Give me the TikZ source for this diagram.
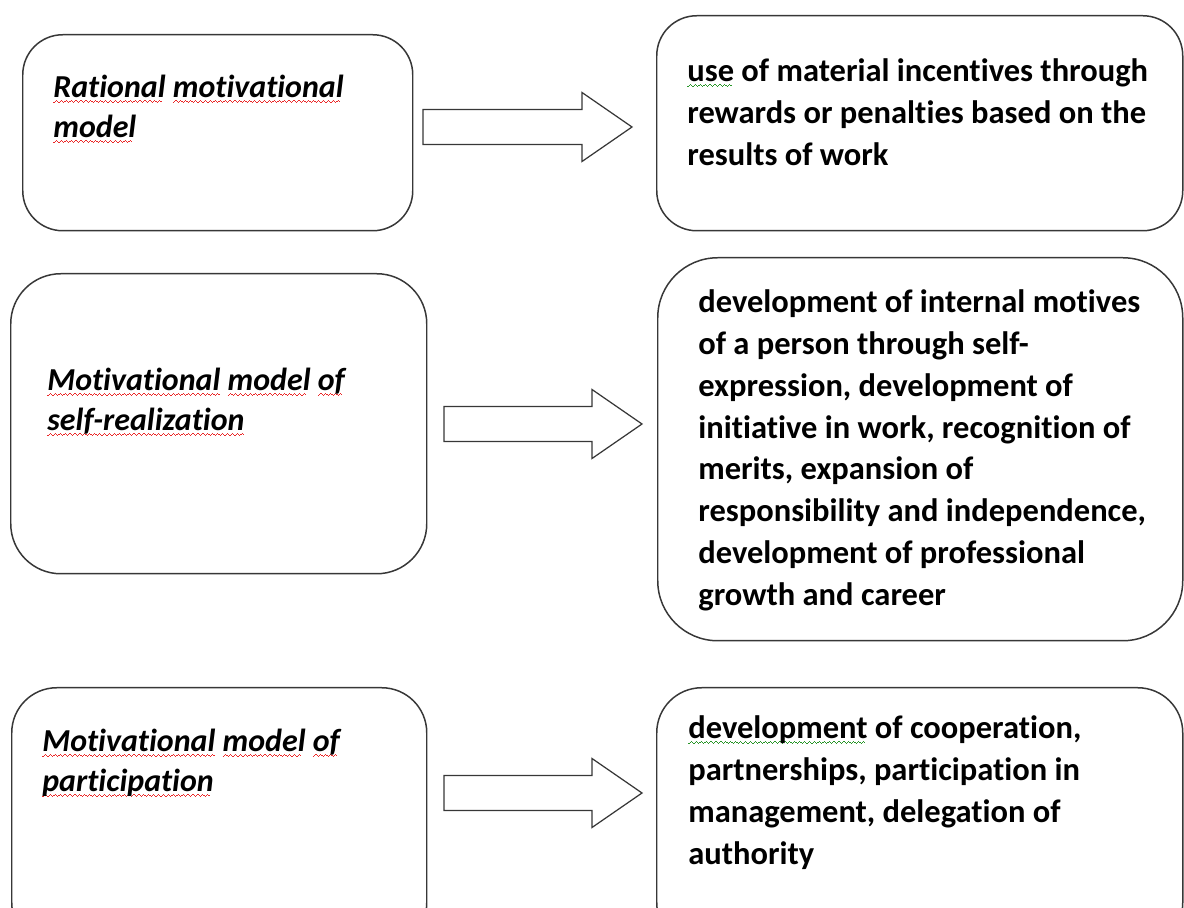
\documentclass[tikz,border=0pt]{standalone}
\usepackage{fontspec}
\setmainfont{Carlito}[Ligatures=NoCommon]
\usepackage{xcolor}
\usetikzlibrary{math}
\definecolor{spellred}{RGB}{235,40,40}
\definecolor{gramgreen}{RGB}{40,150,40}
\definecolor{edge}{RGB}{55,55,55}

%spell check waves
\newsavebox\wavebox
\newcommand\wavy[2]{\sbox\wavebox{#2}\leavevmode\rlap{\hbox to\wd\wavebox{\color{#1}\leaders\hbox{%
 \rule[-2.9pt]{0.7pt}{0.5pt}\rule[-2.4pt]{0.7pt}{0.5pt}\rule[-1.9pt]{0.7pt}{0.5pt}\rule[-2.4pt]{0.7pt}{0.5pt}}\hfil}}\usebox\wavebox}
\newcommand\redwave[1]{\wavy{spellred}{#1}}
\newcommand\greenwave[1]{\wavy{gramgreen}{#1}}

\begin{document}
\begin{tikzpicture}[x=0.02cm, y=-0.02cm,
 model/.style={draw=edge, line width=0.85pt, anchor=north west, inner sep=0pt},
 lefttext/.style={anchor=north west, inner sep=0pt, align=left, font=\bfseries\itshape\fontsize{18.2}{22.8}\selectfont},
 righttext/.style={anchor=north west, inner sep=0pt, align=left, font=\bfseries\fontsize{18.5}{23.8}\selectfont},
 hollow/.style={draw=edge, line width=0.7pt, fill=white}]

\tikzmath{
\pxu = 0.02;% px to cm
\sh = 17.5;% half shaft
\hd = 34.5;% half head
\hl = 50;% head length
}

\clip (0,0) rectangle (1184,908);

%left boxes
\node[model, rounded corners=40*\pxu cm, minimum width=390*\pxu cm, minimum height=196*\pxu cm] (rational) at (22,34) {};
\node[model, rounded corners=50*\pxu cm, minimum width=416*\pxu cm, minimum height=300*\pxu cm] (selfreal) at (10,273) {};
\node[model, rounded corners=45*\pxu cm, minimum width=415*\pxu cm, minimum height=260*\pxu cm] (particip) at (11,687) {};

%right boxes
\node[model, rounded corners=40*\pxu cm, minimum width=526*\pxu cm, minimum height=215*\pxu cm] (incent) at (656,15) {};
\node[model, rounded corners=60*\pxu cm, minimum width=525*\pxu cm, minimum height=383*\pxu cm] (motives) at (657,257) {};
\node[model, rounded corners=45*\pxu cm, minimum width=526*\pxu cm, minimum height=260*\pxu cm] (coop) at (656,687) {};

%texts
\node[lefttext] (rationaltxt) at (53,69) {\strut\redwave{Rational} \redwave{motivational}\\\redwave{model}};
\node[lefttext] (selfrealtxt) at (47,362) {\strut\redwave{Motivational} \redwave{model} \redwave{of}\\\redwave{self-realization}};
\node[lefttext] (participtxt) at (42,723) {\strut\redwave{Motivational} \redwave{model} \redwave{of}\\\redwave{participation}};

\node[righttext] (incenttxt) at (687,52) {\strut\greenwave{use} of material incentives through\\rewards or penalties based on the\\results of work};
\node[righttext] (motivestxt) at (698,283) {\strut development of internal motives\\of a person through self-\\expression, development of\\initiative in work, recognition of\\merits, expansion of\\responsibility and independence,\\development of professional\\growth and career};
\node[righttext] (cooptxt) at (688,709) {\strut\greenwave{development} of cooperation,\\partnerships, participation in\\management, delegation of\\authority};

%block arrows
\foreach \xa/\xb/\y in {423/632/127, 444/642/424, 444/642/793}{
 \draw[hollow] (\xa,\y-\sh) -- (\xb-\hl,\y-\sh) -- (\xb-\hl,\y-\hd) -- (\xb,\y)
  -- (\xb-\hl,\y+\hd) -- (\xb-\hl,\y+\sh) -- (\xa,\y+\sh) -- cycle;
}

\end{tikzpicture}
\end{document}
